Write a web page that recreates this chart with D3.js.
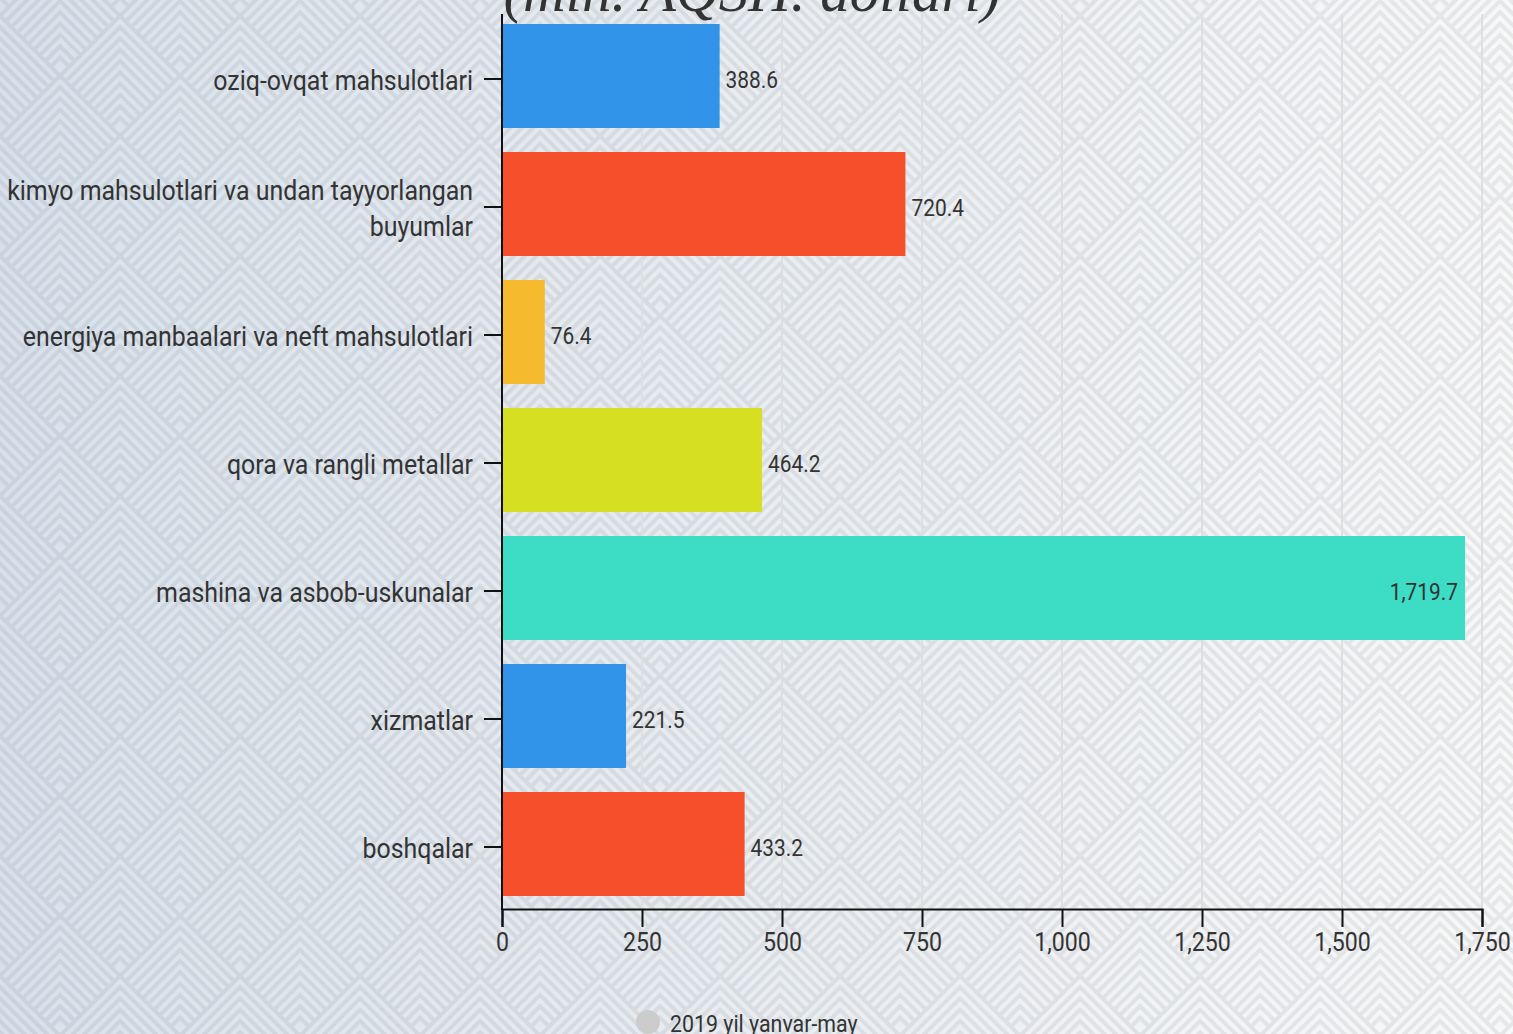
<!DOCTYPE html>
<html>
<head>
<meta charset="utf-8">
<script src="https://cdn.jsdelivr.net/npm/d3@7"></script>
<style>
  html, body { margin: 0; padding: 0; overflow: hidden; background: #eef1f4; }
  svg { display: block; }
  text { font-family: Roboto, "Noto Sans", sans-serif; fill: #333; }
</style>
</head>
<body>
<svg id="chart" width="1513" height="1034"></svg>
<script>
// ---- data ----
const categories = [
  "oziq-ovqat mahsulotlari",
  "kimyo mahsulotlari va undan tayyorlangan buyumlar",
  "energiya manbaalari va neft mahsulotlari",
  "qora va rangli metallar",
  "mashina va asbob-uskunalar",
  "xizmatlar",
  "boshqalar"
];
const values = [388.6, 720.4, 76.4, 464.2, 1719.7, 221.5, 433.2];
const barColors = ["#3194e9", "#f5502b", "#f6ba2e", "#d6df22", "#3ddcc4", "#3194e9", "#f5502b"];
const xTicks = [0, 250, 500, 750, 1000, 1250, 1500, 1750];
const titleText = "(mln. AQSH. dollari)";
const seriesName = "2019 yil yanvar-may";

// ---- layout ----
const W = 1513, H = 1034;
const plot = { left: 502, right: 1482, top: 14, bottom: 909 };
const SX = 0.89; // condensed look

const svg = d3.select("#chart");
const defs = svg.append("defs");

// background gradient
const grad = defs.append("linearGradient").attr("id", "bg").attr("x1", 0).attr("x2", 1).attr("y1", 0).attr("y2", 0);
grad.append("stop").attr("offset", "0%").attr("stop-color", "#d8e1eb");
grad.append("stop").attr("offset", "45%").attr("stop-color", "#e8ecf0");
grad.append("stop").attr("offset", "100%").attr("stop-color", "#f8f8f8");

// chevron pattern
const s = 120 / Math.SQRT2;
const pat = defs.append("pattern").attr("id", "chev")
  .attr("patternUnits", "userSpaceOnUse")
  .attr("width", s).attr("height", s)
  .attr("patternTransform", "translate(0,13) rotate(45)");
const chevD = d3.range(2, s - 6, 8);
pat.selectAll("path").data(chevD).join("path")
  .attr("d", d => `M${d},${s + 2}L${d},${d}L${s + 2},${d}`)
  .attr("fill", "none")
  .attr("stroke", "rgba(70,82,96,0.10)")
  .attr("stroke-width", 4);

svg.append("rect").attr("width", W).attr("height", H).attr("fill", "url(#bg)");
svg.append("rect").attr("width", W).attr("height", H).attr("fill", "url(#chev)");

// scales
const x = d3.scaleLinear().domain([0, 1750]).range([plot.left, plot.right]);
const y = d3.scaleBand().domain(categories).range([12, 908]).paddingInner(0.1875).paddingOuter(0.09375);

// gridlines
svg.append("g").selectAll("line").data(xTicks.slice(1)).join("line")
  .attr("x1", d => x(d)).attr("x2", d => x(d))
  .attr("y1", plot.top).attr("y2", plot.bottom)
  .attr("stroke", "#dedfe0").attr("stroke-width", 2);

// bars
svg.append("g").selectAll("rect").data(values).join("rect")
  .attr("x", x(0))
  .attr("y", (d, i) => y(categories[i]))
  .attr("width", d => x(d) - x(0))
  .attr("height", y.bandwidth())
  .attr("fill", (d, i) => barColors[i]);

// value labels
const fmt = d3.format(",.1f");
const vl = svg.append("g").selectAll("text").data(values).join("text")
  .attr("font-size", 23.5)
  .text(d => fmt(d));
vl.each(function (d, i) {
  const t = d3.select(this);
  const w = this.getComputedTextLength() * SX;
  const cy = y(categories[i]) + y.bandwidth() / 2 + 12;
  let px = x(d) + 6, anchor = "start";
  if (px + w > plot.right) { px = x(d) - 7; anchor = "end"; }
  t.attr("text-anchor", anchor)
   .attr("transform", `translate(${px},${cy}) scale(${SX},1)`);
});

// left axis
const yAxis = svg.append("g")
  .attr("transform", `translate(${plot.left},3)`)
  .call(d3.axisLeft(y).tickSize(18).tickPadding(12));
yAxis.select(".domain").remove();
yAxis.selectAll(".tick line").attr("stroke", "#111").attr("stroke-width", 2);
yAxis.selectAll(".tick text").each(function (d) {
  const t = d3.select(this);
  t.text(null).attr("font-size", 28).attr("font-family", "Roboto").attr("fill", "#333")
   .attr("dy", null).attr("x", null).attr("y", null)
   .attr("transform", `translate(-29,11) scale(${SX},1)`);
  // wrap by width
  const maxW = 472 / SX;
  const words = d.split(" ");
  let lines = [], line = [];
  const probe = t.append("tspan");
  words.forEach(w => {
    const trial = line.concat([w]).join(" ");
    probe.text(trial);
    if (probe.node().getComputedTextLength() > maxW && line.length) {
      lines.push(line.join(" ")); line = [w];
    } else line.push(w);
  });
  lines.push(line.join(" "));
  probe.remove();
  const lh = 36;
  const off = -(lines.length - 1) * lh / 2;
  lines.forEach((ln, k) => {
    t.append("tspan").attr("x", 0).attr("y", off + k * lh).text(ln);
  });
});
svg.append("line")
  .attr("x1", plot.left).attr("x2", plot.left)
  .attr("y1", plot.top).attr("y2", plot.bottom + 1)
  .attr("stroke", "#111").attr("stroke-width", 2);

// bottom axis
const xAxis = svg.append("g")
  .attr("transform", `translate(0,${plot.bottom})`)
  .call(d3.axisBottom(x).tickValues(xTicks).tickSize(18).tickPadding(6).tickFormat(d3.format(",")));
xAxis.select(".domain").attr("stroke", "#111").attr("stroke-width", 2);
xAxis.selectAll(".tick line").attr("stroke", "#111").attr("stroke-width", 2);
xAxis.selectAll(".tick text")
  .attr("font-size", 26).attr("font-family", "Roboto").attr("fill", "#333")
  .attr("transform", `scale(${SX},1)`);

// title
svg.append("text")
  .attr("x", 752).attr("y", 11)
  .attr("text-anchor", "middle")
  .attr("font-style", "italic")
  .attr("font-size", 59)
  .style("font-family", "'Liberation Serif', serif")
  .attr("fill", "#333")
  .text(titleText);

// legend
const lg = svg.append("g");
lg.append("circle").attr("cx", 648).attr("cy", 1022).attr("r", 12).attr("fill", "#cccccc");
lg.append("text").attr("font-size", 24)
  .attr("transform", `translate(670,1032) scale(${SX},1)`)
  .text(seriesName);
</script>
</body>
</html>
